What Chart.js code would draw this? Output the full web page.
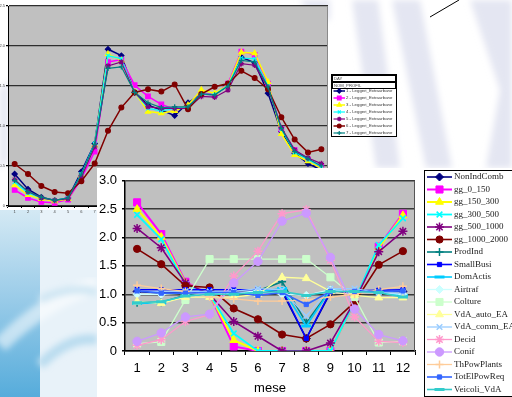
<!DOCTYPE html>
<html>
<head>
<meta charset="utf-8">
<script src="https://cdn.jsdelivr.net/npm/chart.js@4.4.0/dist/chart.umd.min.js"></script>
<style>
  html, body { margin: 0; padding: 0; }
  body { width: 512px; height: 397px; position: relative; overflow: hidden; background: #fff; }
  #deco { position: absolute; left: 0; top: 0; }
  #dailyBox { position: absolute; left: 0; top: 0; width: 400px; height: 216px; }
  #monthBox { position: absolute; left: 97px; top: 168px; width: 415px; height: 229px; background: #fff; }
  canvas { display: block; }
</style>
</head>
<body>
<svg id="deco" width="512" height="397" xmlns="http://www.w3.org/2000/svg">
  <defs>
    <linearGradient id="blueCol" x1="0" y1="0" x2="0" y2="1">
      <stop offset="0" stop-color="#d4e9f4"/>
      <stop offset="0.45" stop-color="#9dcde9"/>
      <stop offset="1" stop-color="#56acdb"/>
    </linearGradient>
    <filter id="soft"><feGaussianBlur stdDeviation="3"/></filter>
  </defs>
  <!-- slide watermark -->
  <g fill="#e4e6f2" filter="url(#soft)">
    <polygon points="300,0 330,0 330,20 312,20"/>
    <polygon points="352,0 378,0 400,168 376,168"/>
    <polygon points="392,0 420,0 452,168 426,168"/>
    <polygon points="470,0 512,0 512,168 486,168 500,90"/>
    <polygon points="0,90 8,80 8,160 0,170"/>
  </g>
  <line x1="430" y1="17" x2="459" y2="0" stroke="#000" stroke-width="1"/>
  <!-- lower-left blue swoosh -->
  <rect x="0" y="210" width="40" height="187" fill="url(#blueCol)"/>
  <rect x="40" y="210" width="57" height="187" fill="#e8f2f9"/>
  <g filter="url(#soft)" fill="none">
    <path d="M0,345 Q45,300 97,285" stroke="#ffffff" stroke-opacity="0.55" stroke-width="16"/>
    <path d="M40,365 Q70,335 97,340" stroke="#b9dcef" stroke-width="10"/>
    <path d="M40,300 Q70,285 97,292" stroke="#cfe6f3" stroke-width="8"/>
  </g>
</svg>

<div id="dailyBox"><canvas id="daily" width="400" height="216"></canvas></div>
<div id="monthBox"><canvas id="monthly" width="415" height="229"></canvas></div>

<script>
// ---- hourly profiles (background chart) ----
const hours = ['1','2','3','4','5','6','7','8','9','10','11','12','13','14','15','16','17','18','19','20','21','22','23','24'];
const dailyLabels = [
  '1 - Leggeri_Extraurbane', '2 - Leggeri_Extraurbane', '3 - Leggeri_Extraurbane',
  '4 - Leggeri_Extraurbane', '5 - Leggeri_Extraurbane', '6 - Leggeri_Extraurbane',
  '7 - Leggeri_Extraurbane'
];
const day1 = [0.40,0.21,0.11,0.07,0.10,0.43,0.78,1.96,1.88,1.42,1.26,1.20,1.13,1.29,1.40,1.39,1.51,1.86,1.79,1.41,0.93,0.66,0.53,0.45];
const day2 = [0.20,0.10,0.05,0.04,0.08,0.34,0.68,1.80,1.83,1.51,1.37,1.27,1.21,1.24,1.40,1.39,1.53,1.93,1.89,1.53,0.96,0.70,0.58,0.49];
const day3 = [0.26,0.14,0.09,0.06,0.09,0.38,0.76,1.90,1.82,1.42,1.18,1.16,1.19,1.26,1.45,1.41,1.51,1.92,1.91,1.55,0.90,0.64,0.56,0.47];
const day4 = [0.30,0.16,0.10,0.07,0.10,0.40,0.78,1.88,1.84,1.42,1.22,1.19,1.22,1.24,1.40,1.39,1.51,1.85,1.84,1.50,0.96,0.67,0.58,0.49];
const day5 = [0.33,0.18,0.10,0.07,0.09,0.36,0.74,1.75,1.80,1.42,1.24,1.22,1.22,1.22,1.37,1.36,1.45,1.78,1.76,1.48,0.98,0.70,0.60,0.53];
const day6 = [0.525,0.40,0.25,0.175,0.16,0.31,0.53,0.94,1.23,1.42,1.46,1.43,1.52,1.21,1.40,1.49,1.53,1.69,1.60,1.46,1.11,0.83,0.67,0.71];
const day7 = [0.32,0.18,0.11,0.07,0.10,0.40,0.77,1.72,1.74,1.42,1.29,1.23,1.24,1.24,1.40,1.39,1.50,1.82,1.80,1.49,0.97,0.68,0.59,0.50];

// ---- monthly factors (front chart) ----
const months = ['1','2','3','4','5','6','7','8','9','10','11','12'];
const NonIndComb   = [1.05,1.02,1.03,1.03,1.03,1.05,1.05,0.22,1.03,1.05,1.05,1.05];
const gg_0_150     = [2.62,2.06,1.22,1.00,0.08,0,0,0,0,0.87,1.84,2.42];
const gg_150_300   = [2.50,2.01,1.20,1.00,0.19,0,0,0,0,0.88,1.82,2.39];
const gg_300_500   = [2.40,1.97,1.18,1.00,0.31,0,0,0,0,0.88,1.87,2.34];
const gg_500_1000  = [2.16,1.82,1.20,1.00,0.52,0.26,0,0,0.14,0.88,1.75,2.11];
const gg_1000_2000 = [1.80,1.53,1.15,1.12,0.75,0.56,0.29,0.22,0.47,0.86,1.52,1.76];
const ProdInd      = [0.85,0.86,0.98,1.00,1.00,1.06,1.22,0.50,1.08,1.05,1.03,1.00];
const SmallBusi    = [1.08,1.08,1.08,1.08,1.08,1.08,1.08,0.22,1.05,1.06,1.07,1.08];
const DomActis     = [0.84,0.85,0.97,1.00,1.00,1.05,1.10,0.44,1.08,1.05,1.03,0.98];
const Airtraf      = [1.00,1.00,1.02,1.00,1.02,1.06,1.00,0.98,1.08,1.05,1.03,1.00];
const Colture      = [0.13,0.16,0.90,1.62,1.62,1.62,1.62,1.62,1.30,0.95,0.15,0.17];
const VdA_auto_EA  = [0.87,0.84,0.95,0.95,0.95,1.00,1.30,1.28,1.05,0.98,0.94,0.94];
const VdA_comm_EA  = [1.05,1.05,1.05,1.05,1.05,1.10,1.08,0.62,1.10,1.10,1.03,1.02];
const Decid        = [0.10,0.20,0.52,0.64,1.32,1.76,2.42,2.49,1.60,0.60,0.17,0.15];
const Conif        = [0.17,0.32,0.60,0.65,1.20,1.58,2.29,2.43,1.65,0.74,0.29,0.18];
const ThPowPlants  = [1.16,1.10,1.05,0.95,0.92,0.88,0.88,0.90,0.95,1.00,1.08,1.14];
const TotElPowReq  = [1.06,1.02,1.02,1.03,1.03,0.98,1.03,0.82,1.05,1.05,1.05,1.06];
const Veicoli_VdA  = [0.85,0.87,0.97,1.00,1.00,1.03,1.05,0.98,1.05,1.05,1.03,0.95];

const SANS = 'Liberation Sans';

function series(label, data, color, style, radius, lineW, markW, index, count) {
  return {
    label, data,
    borderColor: color, backgroundColor: color,
    pointBackgroundColor: color, pointBorderColor: color,
    pointStyle: style, pointRadius: radius, pointBorderWidth: markW,
    pointHoverRadius: radius,
    borderWidth: lineW, tension: 0, fill: false,
    order: count - index
  };
}

// grey plot area + right frame
const plotFrame = {
  id: 'plotFrame',
  beforeDraw(chart, args, opts) {
    const { ctx, chartArea: a } = chart;
    ctx.save();
    ctx.fillStyle = opts.fill;
    ctx.fillRect(a.left, a.top, a.right - a.left, a.bottom - a.top);
    ctx.restore();
  },
  beforeDatasetsDraw(chart, args, opts) {
    const { ctx, chartArea: a } = chart;
    ctx.save();
    ctx.strokeStyle = opts.edge;
    ctx.lineWidth = 1;
    ctx.beginPath();
    ctx.moveTo(Math.round(a.right) - 0.5, a.top);
    ctx.lineTo(Math.round(a.right) - 0.5, a.bottom);
    ctx.stroke();
    ctx.restore();
  }
};

// boxed legend drawn beside the plot
const boxLegend = {
  id: 'boxLegend',
  afterDraw(chart, args, o) {
    const ctx = chart.ctx;
    ctx.save();
    ctx.fillStyle = '#fff';
    ctx.fillRect(o.x, o.y, o.w, o.h);
    ctx.strokeStyle = '#000';
    ctx.lineWidth = 1;
    ctx.strokeRect(o.x + 0.5, o.y + 0.5, o.w, o.h);
    let y0 = o.first;
    if (o.header) {
      ctx.font = o.fontSize + 'px ' + SANS;
      ctx.textBaseline = 'middle';
      ctx.fillStyle = '#444';
      o.header.forEach((h, k) => {
        const top = o.y + 1 + k * o.headerH;
        ctx.strokeRect(o.x + 1.5, top + 0.5, o.w - 2, o.headerH - 1);
        ctx.fillText(h, o.x + 3, top + o.headerH / 2);
      });
    }
    chart.data.datasets.forEach((ds, i) => {
      const y = y0 + i * o.step;
      ctx.strokeStyle = ds.borderColor;
      ctx.fillStyle = ds.borderColor;
      ctx.lineWidth = ds.borderWidth;
      ctx.beginPath();
      ctx.moveTo(o.lineX0, y);
      ctx.lineTo(o.lineX1, y);
      ctx.stroke();
      ctx.lineWidth = ds.pointBorderWidth;
      Chart.helpers.drawPoint(ctx, {
        pointStyle: ds.pointStyle, rotation: 0,
        radius: ds.pointRadius * o.markScale, borderWidth: ds.pointBorderWidth
      }, (o.lineX0 + o.lineX1) / 2, y);
      ctx.fillStyle = o.textColor;
      ctx.font = o.font;
      ctx.textBaseline = 'middle';
      ctx.fillText(ds.label, o.textX, y);
    });
    ctx.restore();
  }
};

// ---------- hourly chart ----------
const dailyData = [day1, day2, day3, day4, day5, day6, day7];
const dailyStyle = [
  ['#000080', 'rectRot', 2.6, 1.5],
  ['#ff00ff', 'rect', 3.2, 1.5],
  ['#ffff00', 'triangle', 3, 1.5],
  ['#00ffff', 'crossRot', 2.6, 1.2],
  ['#800080', 'star', 2.8, 1.2],
  ['#800000', 'circle', 2.4, 1.5],
  ['#008080', 'cross', 2.6, 1.2]
];
const dailySets = dailyData.map((d, i) => {
  const s = dailyStyle[i];
  return series(dailyLabels[i], d, s[0], s[1], s[2], s[3], 1.2, i, dailyData.length);
});

new Chart(document.getElementById('daily'), {
  type: 'line',
  data: { labels: hours, datasets: dailySets },
  plugins: [plotFrame, boxLegend],
  options: {
    responsive: false, animation: false, devicePixelRatio: 1,
    layout: { padding: { left: 0, top: 6, right: 72, bottom: 0 } },
    plugins: {
      legend: { display: false }, tooltip: { enabled: false },
      plotFrame: { fill: '#c0c0c0', edge: '#8a8a8a' },
      boxLegend: {
        x: 331, y: 74, w: 65, h: 62, header: ['DAY', 'NOM_PROFIL'], headerH: 7,
        fontSize: 4.2, first: 91, step: 7, lineX0: 333.5, lineX1: 345,
        textX: 346, font: '4.3px ' + SANS, textColor: '#333', markScale: 0.8
      }
    },
    scales: {
      x: {
        offset: true,
        grid: { drawOnChartArea: false, drawTicks: true, tickLength: 2, offset: true, color: '#000' },
        border: { display: true, color: '#000', width: 1 },
        ticks: { font: { size: 4, family: SANS }, color: '#444', padding: 1, maxRotation: 0, autoSkip: false },
        afterFit(s) { s.height = 10; }
      },
      y: {
        min: 0, max: 2.5,
        ticks: { stepSize: 0.5, font: { size: 4, family: SANS }, color: '#444', padding: 1 },
        grid: { color: '#2e2e2e', lineWidth: 1.2, tickLength: 2, tickColor: '#000' },
        border: { display: true, color: '#000', width: 1 },
        afterFit(s) { s.width = 8; }
      }
    }
  }
});

// ---------- monthly chart ----------
const monthNames = ['NonIndComb','gg_0_150','gg_150_300','gg_300_500','gg_500_1000','gg_1000_2000',
  'ProdInd','SmallBusi','DomActis','Airtraf','Colture','VdA_auto_EA','VdA_comm_EA','Decid','Conif',
  'ThPowPlants','TotElPowReq','Veicoli_VdA'];
const monthData = [NonIndComb, gg_0_150, gg_150_300, gg_300_500, gg_500_1000, gg_1000_2000,
  ProdInd, SmallBusi, DomActis, Airtraf, Colture, VdA_auto_EA, VdA_comm_EA, Decid, Conif,
  ThPowPlants, TotElPowReq, Veicoli_VdA];
// colour, marker, radius, line width, marker stroke
const monthStyle = [
  ['#000080', 'rectRot', 4, 1.6, 1],
  ['#ff00ff', 'rect', 5, 2, 1],
  ['#ffff00', 'triangle', 4.5, 2, 1],
  ['#00ffff', 'crossRot', 4, 1.8, 1.6],
  ['#800080', 'star', 4.5, 1.6, 1.5],
  ['#800000', 'circle', 3.6, 1.6, 1],
  ['#008080', 'cross', 4, 1.6, 1.5],
  ['#0000ff', 'rect', 3, 1.6, 1],
  ['#00ccff', 'line', 5, 1.6, 3],
  ['#ccffff', 'rectRot', 4, 1.3, 1],
  ['#ccffcc', 'rect', 5, 1.3, 1],
  ['#ffff99', 'triangle', 4.5, 1.3, 1],
  ['#99ccff', 'crossRot', 4, 1.3, 1.5],
  ['#ff99cc', 'star', 4.5, 1.3, 1.5],
  ['#cc99ff', 'circle', 4.2, 1.3, 1],
  ['#ffcc99', 'cross', 4, 1.3, 1.5],
  ['#3366ff', 'rect', 3, 1.6, 1],
  ['#33cccc', 'line', 5, 1.6, 3]
];
const monthSets = monthData.map((d, i) => {
  const s = monthStyle[i];
  return series(monthNames[i], d, s[0], s[1], s[2], s[3], s[4], i, monthData.length);
});

new Chart(document.getElementById('monthly'), {
  type: 'line',
  data: { labels: months, datasets: monthSets },
  plugins: [plotFrame, boxLegend],
  options: {
    responsive: false, animation: false, devicePixelRatio: 1,
    layout: { padding: { left: 0, top: 10, right: 97, bottom: 0 } },
    plugins: {
      legend: { display: false }, tooltip: { enabled: false },
      plotFrame: { fill: '#c0c0c0', edge: '#555' },
      boxLegend: {
        x: 327, y: 2, w: 100, h: 226, header: null,
        first: 9, step: 12.5, lineX0: 330, lineX1: 355,
        textX: 357, font: '9px "Liberation Serif"', textColor: '#222', markScale: 1
      }
    },
    scales: {
      x: {
        offset: true,
        grid: { drawOnChartArea: false, drawTicks: true, tickLength: 4, offset: true, color: '#000' },
        border: { display: true, color: '#000', width: 1.5 },
        ticks: { font: { size: 13, family: SANS }, color: '#000', padding: 6, maxRotation: 0, autoSkip: false },
        title: { display: true, text: 'mese', font: { size: 13, family: SANS }, color: '#000', padding: { top: 0, bottom: 1 } },
        afterFit(s) { s.height = 46; }
      },
      y: {
        min: 0, max: 3,
        ticks: { stepSize: 0.5, font: { size: 13, family: SANS }, color: '#000', padding: 5 },
        grid: { color: '#3a3a3a', lineWidth: 1.4, tickLength: 3, tickColor: '#000' },
        border: { display: true, color: '#000', width: 1.5 },
        afterFit(s) { s.width = 28; }
      }
    }
  }
});
</script>
</body>
</html>
